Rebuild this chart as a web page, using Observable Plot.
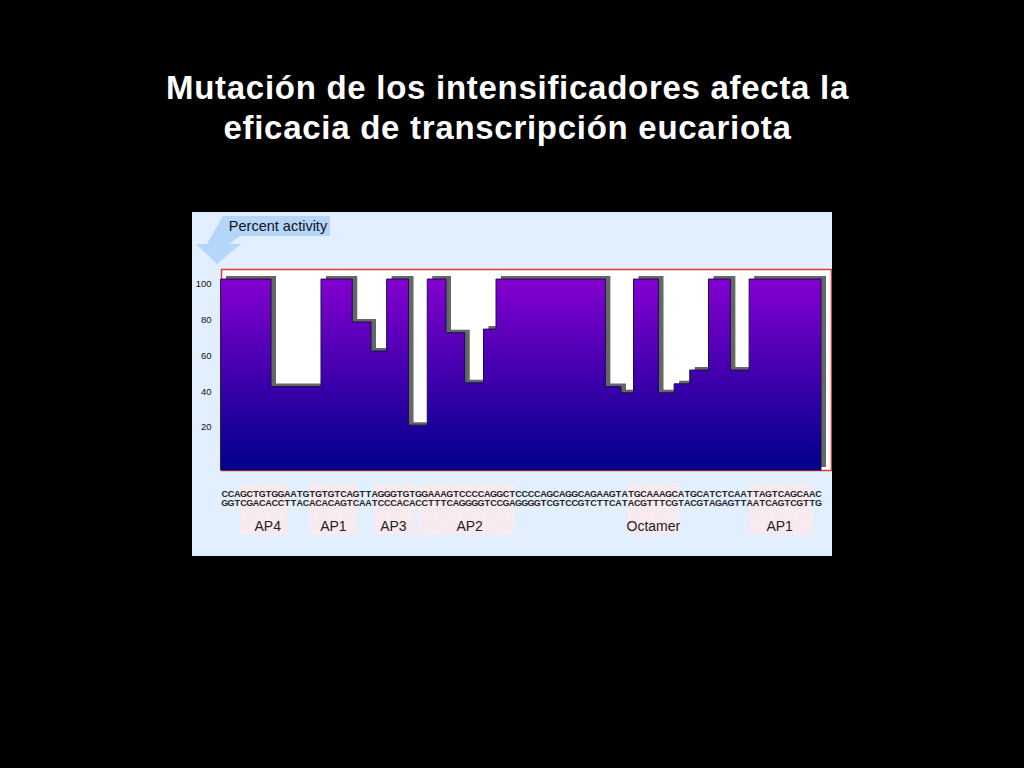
<!DOCTYPE html>
<html><head><meta charset="utf-8">
<script src="https://cdn.jsdelivr.net/npm/d3@7"></script>
<script src="https://cdn.jsdelivr.net/npm/@observablehq/plot@0.6"></script>
<style>
html,body{margin:0;background:#000;width:1024px;height:768px;overflow:hidden}
#title{position:absolute;left:0;top:68px;width:1015px;text-align:center;color:#fff;font:700 33px/40px "Liberation Sans",Arial,sans-serif;letter-spacing:.72px}
#chart{position:absolute;left:192px;top:212px}
#chart svg{display:block}
#arrow{position:absolute;left:192px;top:212px}
#pct{position:absolute;left:226px;top:216px;width:104px;height:20px;background:#b5d6fb;color:#111;font:14.5px/20px "Liberation Sans",sans-serif;text-align:center;white-space:nowrap}
</style></head><body>
<div id="title">Mutación de los intensificadores afecta la<br>eficacia de transcripción eucariota</div>
<div id="chart"></div>
<svg id="arrow" width="60" height="60"><path d="M31 4H45V24H48L37 32H49L25 52 4 32H15Z" fill="#b5d6fb"/></svg>
<div id="pct">Percent activity</div>
<script>
const stepStart = [0,8,16,21,24,26.5,30,33,36,39,42,44,61.5,64,66,70,72.5,75,78,81.5,84.5,96];
const activity  = [102.4,42.5,102.4,78.5,62.3,102.4,21,102.4,72.5,44.6,74.5,102.4,42.5,39,102.4,39,44,51.7,102.4,51.7,102.4,102.4];
const yTicks = [100,80,60,40,20];
const topStrand    = "CCAGCTGTGGAATGTGTGTCAGTTAGGGTGTGGAAAGTCCCCAGGCTCCCCAGCAGGCAGAAGTATGCAAAGCATGCATCTCAATTAGTCAGCAAC";
const bottomStrand = "GGTCGACACCTTACACACAGTCAATCCCACACCTTTCAGGGGTCCGAGGGGTCGTCCGTCTTCATACGTTTCGTACGTAGAGTTAATCAGTCGTTG";
const siteNames = ["AP4","AP1","AP3","AP2","Octamer","AP1"];
const siteStart = [3,14.1,24.5,31.5,65,84.5];
const siteEnd   = [10.6,21.7,31,46.9,73.3,94.7];
const siteLabelAt = [7.4,17.9,27.5,39.7,69.1,89.3];

const steps = stepStart.map((x,i)=>({x,v:activity[i]}));
const sites = siteNames.map((name,i)=>({name,a:siteStart[i],b:siteEnd[i],c:siteLabelAt[i]}));
const letters = s => Array.from(s,(ch,i)=>({ch,x:i+0.5}));

function defs(){
  const ns="http://www.w3.org/2000/svg";
  const d=document.createElementNS(ns,"defs");
  d.innerHTML=`<linearGradient id="grad" x1="0" y1="0" x2="0" y2="1">
   <stop offset="0" stop-color="#8400d0"/><stop offset="1" stop-color="#00008c"/></linearGradient>
   <pattern id="dots" width="3" height="3" patternUnits="userSpaceOnUse">
   <rect width="3" height="3" fill="#fdf8fa"/><rect width="1.5" height="1.5" fill="#f6dde5"/><rect x="1.5" y="1.5" width="1.5" height="1.5" fill="#f6dde5"/></pattern>`;
  return d;
}
const font='"Liberation Sans",Arial,sans-serif';
const chart = Plot.plot({
  width:640,height:344,
  marginLeft:29,marginRight:1,marginTop:57,marginBottom:86,
  style:{background:"#e2effe",fontFamily:font,color:"#111"},
  x:{domain:[0,97.6],axis:null},
  y:{domain:[-4,108],axis:null},
  marks:[
    defs,
    Plot.frame({fill:"#fff",stroke:"#e23a3a",strokeWidth:1.5}),
    Plot.areaY(steps,{x:"x",y1:()=>-4,y2:"v",curve:"step-after",fill:"#666",dx:5,dy:-3}),
    Plot.areaY(steps,{x:"x",y1:()=>-4,y2:"v",curve:"step-after",fill:"url(#grad)",stroke:"#14104e",strokeWidth:1}),
    Plot.axisY({ticks:yTicks,tickSize:0,tickPadding:10,fontSize:9.5,label:null}),
    Plot.rect(sites,{x1:"a",x2:"b",y1:()=>-40,y2:()=>-11.8,fill:"url(#dots)"}),
    Plot.text(letters(topStrand),{x:"x",y:()=>-17,text:"ch",fontSize:9,fontWeight:700,fill:"#222"}),
    Plot.text(letters(bottomStrand),{x:"x",y:()=>-22,text:"ch",fontSize:9,fontWeight:700,fill:"#222"}),
    Plot.text(sites,{x:"c",y:()=>-35,text:"name",fontSize:14,fill:"#222"})
  ]
});
document.getElementById("chart").append(chart);
</script>
</body></html>
